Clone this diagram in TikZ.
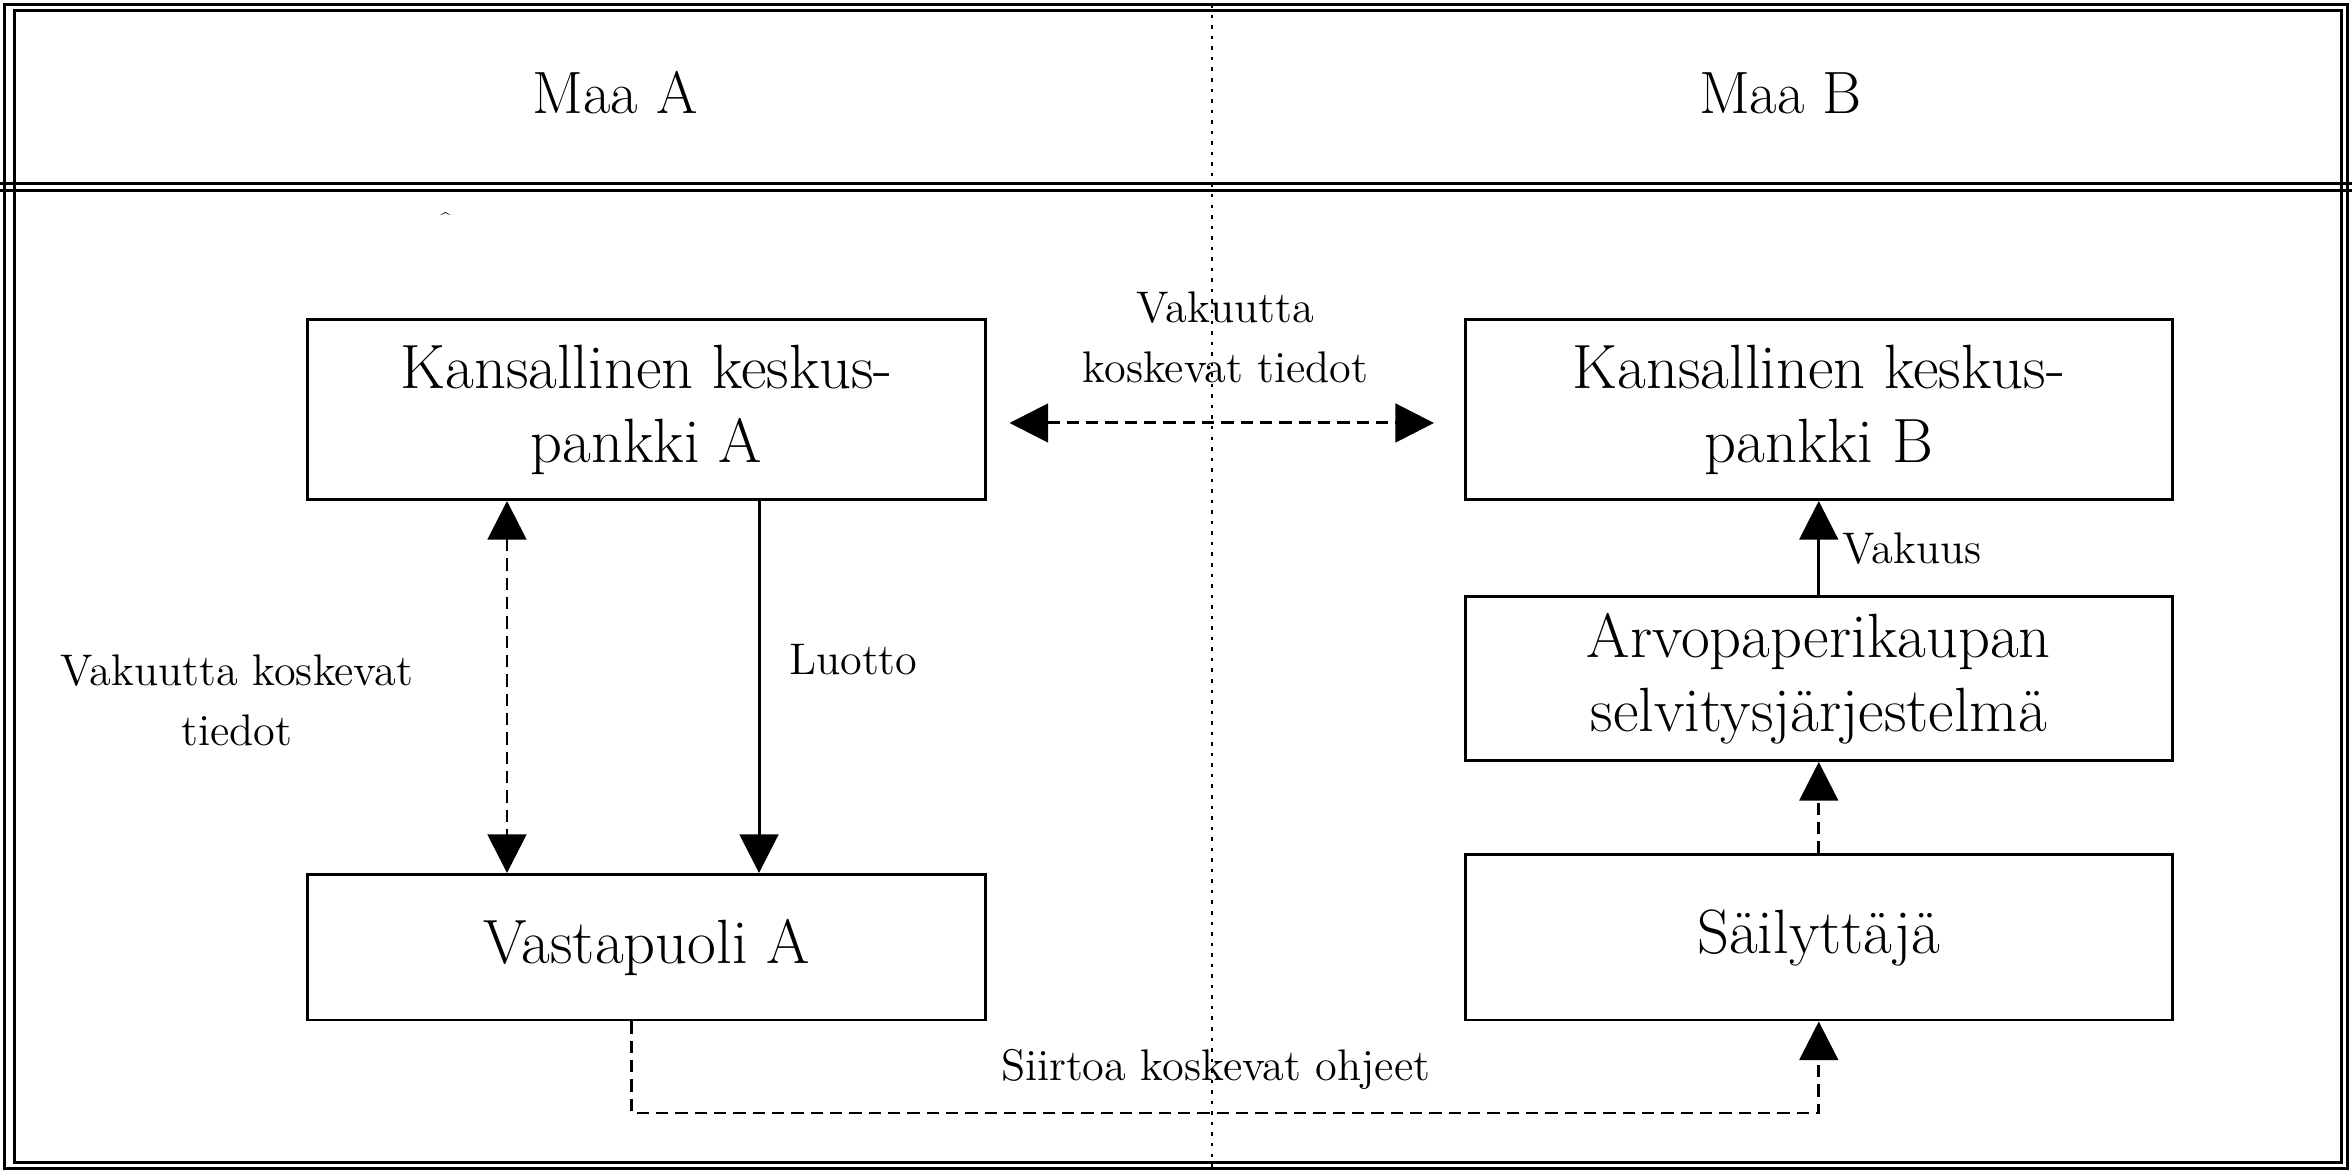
\documentclass[tikz,border=0pt]{standalone}
\usepackage{tikz}
\usetikzlibrary{arrows.meta}

\begin{document}
\begin{tikzpicture}[x=0.015cm, y=-0.015cm, >={Triangle[length=11pt,width=11pt]},
        box/.style={draw, line width=0.85pt, inner sep=0pt, align=center, font=\fontsize{17.8}{21}\selectfont},
        lbl/.style={align=center, font=\fontsize{12.6}{17}\selectfont},
        dashline/.style={line width=0.85pt, dash pattern=on 3.5pt off 2pt},
        solidline/.style={line width=0.85pt}]
        \useasboundingbox (0,0) rectangle (1568,781);
        % frame and the two countries
        \draw[line width=0.7pt, dash pattern=on 1pt off 2pt] (808,2.8) -- (808,779.3);
        \draw[line width=0.85pt] (2.8,2.8) rectangle (1564.9,779.3) (9.5,7.3) rectangle (1560.8,775.1);
        \draw[line width=0.85pt] (0,122.5) -- (1568,122.5) (0,127) -- (1568,127);
        \node[font=\fontsize{17}{20}\selectfont] (maaa) at (410,62) {Maa A};
        \node[font=\fontsize{17}{20}\selectfont] (maab) at (1187,62) {Maa B};
        \node[font=\tiny] (hattu) at (297,146) {\^{}};

        \node[box, minimum width=6.78cm, minimum height=1.8cm] (kpa) at (431,273) {Kansallinen keskus-\\pankki A};
        \node[box, minimum width=7.065cm, minimum height=1.8cm] (kpb) at (1212.5,273) {Kansallinen keskus-\\pankki B};
        \node[box, minimum width=6.78cm, minimum height=1.455cm] (vpa) at (431,631.5) {Vastapuoli A};
        \node[box, minimum width=7.065cm, minimum height=1.635cm] (apk) at (1212.5,452.5) {Arvopaperikaupan\\selvitysjärjestelmä};
        \node[box, minimum width=7.065cm, minimum height=1.65cm] (sai) at (1212.5,625) {Säilyttäjä};

        \draw[dashline, <->, shorten <=0.225cm, shorten >=0.3cm] ([yshift=-0.135cm]kpa.east) -- ([yshift=-0.135cm]kpb.west)
            node[lbl, midway, yshift=0.855cm] (tieto) {Vakuutta\\koskevat tiedot};
        \draw[dashline, <->] ([xshift=-1.395cm]kpa.south) -- ([xshift=-1.395cm]vpa.north)
            node[lbl, midway, xshift=-2.7cm, yshift=-0.135cm] (tietoa) {Vakuutta koskevat\\tiedot};
        \draw[solidline, ->] ([xshift=1.125cm]kpa.south) -- ([xshift=1.125cm]vpa.north)
            node[lbl, midway, right=0.17cm, yshift=0.27cm] (luotto) {Luotto};
        \draw[solidline, ->] (apk.north) -- (kpb.south) node[lbl, midway, right=0.11cm] (vakuus) {Vakuus};
        \draw[dashline, ->] (sai.north) -- (apk.south);
        \draw[dashline, ->] ([xshift=-0.15cm]vpa.south) -- ++(0,61) -| (sai.south)
            node[lbl, pos=0.246, yshift=0.435cm] (siirto) {Siirtoa koskevat ohjeet};
\end{tikzpicture}
\end{document}
